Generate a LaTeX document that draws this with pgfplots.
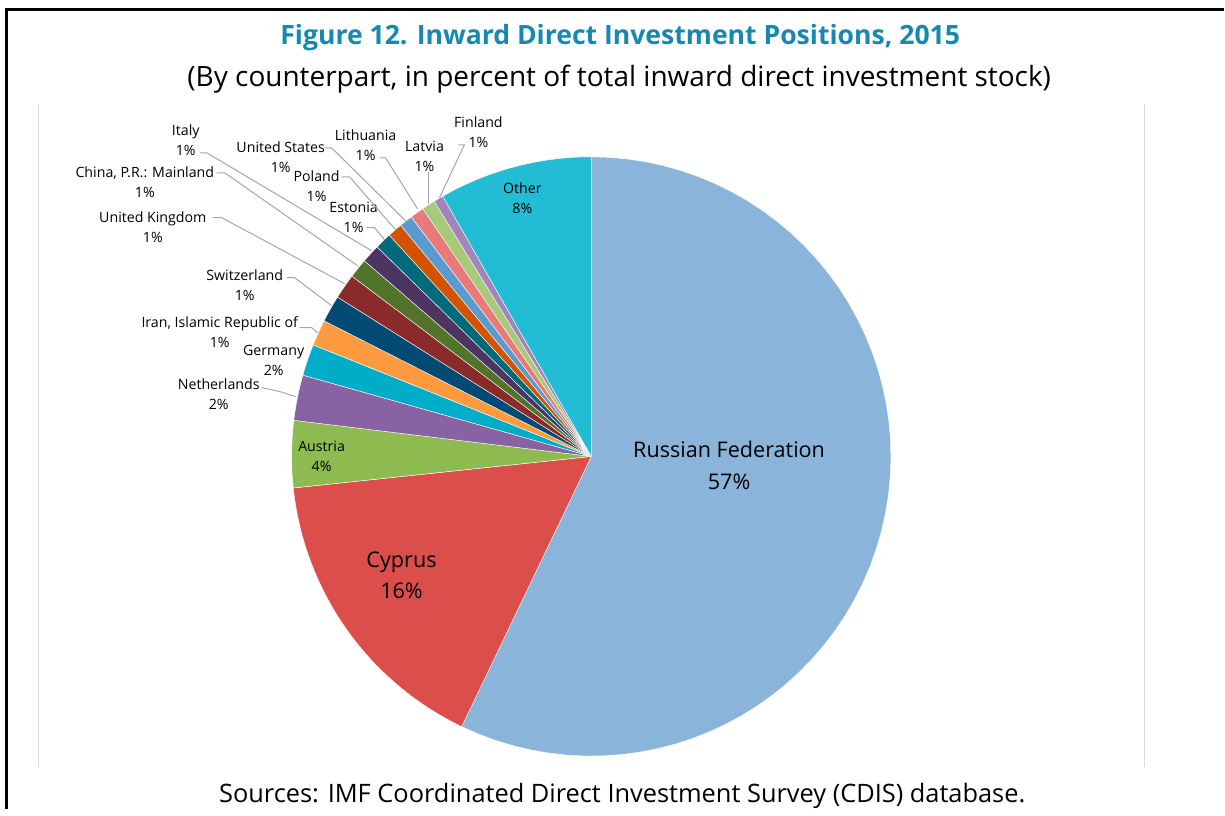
\documentclass[border=0pt]{standalone}
\usepackage{pgfplots}
\pgfplotsset{compat=1.18}
\usepackage{pgfplotstable}
\usepackage{fontspec}
\setmainfont{Open Sans}

% slices clockwise from 12 o'clock (percent of total stock)
\pgfplotstableread{
name val
Russia 57.1
Cyprus 16.2
Austria 3.6
Netherlands 2.45
Germany 1.7
Iran 1.4
Switzerland 1.45
UK 1.35
China 1.05
Italy 1.0
Estonia 0.9
Poland 0.8
US 0.72
Lithuania 0.75
Latvia 0.72
Finland 0.53
Other 8.25
}\slices

\definecolor{c0}{HTML}{8BB4DA}
\definecolor{c1}{HTML}{DC4E4C}
\definecolor{c2}{HTML}{8EBB4F}
\definecolor{c3}{HTML}{8962A3}
\definecolor{c4}{HTML}{00ADC8}
\definecolor{c5}{HTML}{FF9A3E}
\definecolor{c6}{HTML}{004A74}
\definecolor{c7}{HTML}{8A2A2A}
\definecolor{c8}{HTML}{52732A}
\definecolor{c9}{HTML}{4C3463}
\definecolor{c10}{HTML}{00697A}
\definecolor{c11}{HTML}{D35400}
\definecolor{c12}{HTML}{5A9BCF}
\definecolor{c13}{HTML}{E87B79}
\definecolor{c14}{HTML}{A6CA77}
\definecolor{c15}{HTML}{A385BB}
\definecolor{c16}{HTML}{22BCD4}
\definecolor{titleblue}{RGB}{23,137,176}
\definecolor{leader}{HTML}{A6A6A6}

\def\total{0}
\pgfplotstableforeachcolumnelement{val}\of\slices\as\v{%
  \pgfmathparse{\total+\v}\xdef\total{\pgfmathresult}}
\pgfmathsetmacro\degper{360/\total}
\def\cum{0}
\pgfplotstableforeachcolumnelement{val}\of\slices\as\v{%
  \pgfmathparse{\cum}\let\st\pgfmathresult
  \expandafter\xdef\csname sa\pgfplotstablerow\endcsname{\st}%
  \pgfmathparse{\cum+\degper*\v}\xdef\cum{\pgfmathresult}%
  \expandafter\xdef\csname sb\pgfplotstablerow\endcsname{\cum}}

\newcommand\lab{\fontsize{7.1}{10}\selectfont}

\begin{document}
\begin{tikzpicture}
\begin{axis}[
  width=612.5pt, height=405pt, scale only axis,
  xmin=0, xmax=1225, ymin=0, ymax=810, y dir=reverse,
  hide axis, clip=false]
\path (axis cs:0,0) rectangle (axis cs:1225,810);
% frame
\draw[black, line width=1.5pt] (axis cs:7,810) -- (axis cs:7,10) -- (axis cs:1225,10);
\draw[black!15, line width=0.5pt] (axis cs:39,104) -- (axis cs:39,768);
\draw[black!15, line width=0.5pt] (axis cs:1146,104) -- (axis cs:1146,768);
% pie
\pgfplotsinvokeforeach{0,...,16}{%
  \edef\sa{\csname sa#1\endcsname}\edef\sb{\csname sb#1\endcsname}%
  \addplot[fill=c#1, draw=white, line width=0.2pt, domain=\sa:\sb, samples=60, variable=\t]
    ({592+300*sin(\t)},{457-300*cos(\t)}) -- (axis cs:592,457) -- cycle;
}
% titles
\node[font=\bfseries\fontsize{13.3}{15}\selectfont, text=titleblue] at (axis cs:621,38) {Figure 12. Inward Direct Investment Positions, 2015};
\node[font=\fontsize{14}{16}\selectfont] at (axis cs:620,79) {(By counterpart, in percent of total inward direct investment stock)};
\node[font=\fontsize{12.7}{14}\selectfont] at (axis cs:623,797) {Sources: IMF Coordinated Direct Investment Survey (CDIS) database.};
% big labels
\node[align=center, font=\fontsize{10.8}{16}\selectfont] at (axis cs:730,466) {Russian Federation\\57\%};
\node[align=center, font=\fontsize{10.8}{16}\selectfont] at (axis cs:402,576) {Cyprus\\16\%};
\node[align=center, font=\lab] at (axis cs:322,457) {Austria\\4\%};
\node[align=center, font=\lab] at (axis cs:523,198) {Other\\8\%};
% small labels
\node[align=center, font=\lab] at (axis cs:479,132) {Finland\\1\%};
\node[align=center, font=\lab] at (axis cs:425,157) {Latvia\\1\%};
\node[align=center, font=\lab] at (axis cs:366,145) {Lithuania\\1\%};
\node[align=center, font=\lab] at (axis cs:281,157) {United States\\1\%};
\node[align=center, font=\lab] at (axis cs:317,186) {Poland\\1\%};
\node[align=center, font=\lab] at (axis cs:354,218) {Estonia\\1\%};
\node[align=center, font=\lab] at (axis cs:186,140) {Italy\\1\%};
\node[align=center, font=\lab] at (axis cs:145,182) {China, P.R.: Mainland\\1\%};
\node[align=center, font=\lab] at (axis cs:153,227) {United Kingdom\\1\%};
\node[align=center, font=\lab] at (axis cs:245,286) {Switzerland\\1\%};
\node[align=center, font=\lab] at (axis cs:220,333) {Iran, Islamic Republic of\\1\%};
\node[align=center, font=\lab] at (axis cs:274,361) {Germany\\2\%};
\node[align=center, font=\lab] at (axis cs:219,395) {Netherlands\\2\%};
% leader lines
\begin{scope}[leader, line width=0.5pt]
\draw (axis cs:459,145) -- (axis cs:465,145) -- (axis cs:440,198);
\draw (axis cs:429,172) -- (axis cs:429,204);
\draw (axis cs:380,158) -- (axis cs:386,158) -- (axis cs:418,209);
\draw (axis cs:325,148) -- (axis cs:332,148) -- (axis cs:407,222);
\draw (axis cs:342,177) -- (axis cs:350,177) -- (axis cs:396,230);
\draw (axis cs:367,228) -- (axis cs:375,228) -- (axis cs:385,240);
\draw (axis cs:200,153) -- (axis cs:207,153) -- (axis cs:372,251);
\draw (axis cs:217,173) -- (axis cs:225,173) -- (axis cs:358,266);
\draw (axis cs:213,218) -- (axis cs:222,218) -- (axis cs:345,284);
\draw (axis cs:287,278) -- (axis cs:295,278) -- (axis cs:332,306);
\draw (axis cs:300,328) -- (axis cs:312,328) -- (axis cs:318,333);
\draw (axis cs:262,388) -- (axis cs:280,392) -- (axis cs:296,397);
\end{scope}
\end{axis}
\end{tikzpicture}
\end{document}
